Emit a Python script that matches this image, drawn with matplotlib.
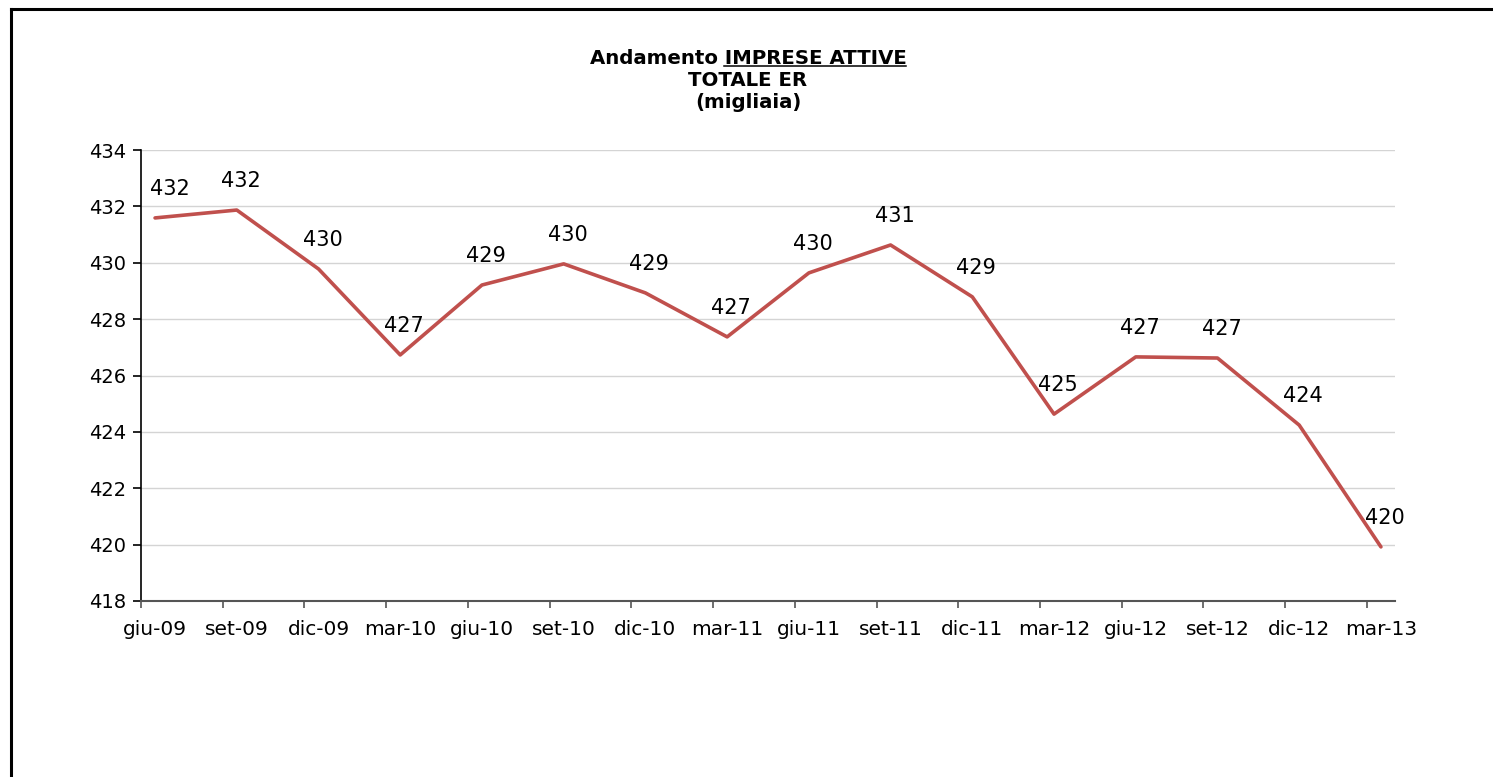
import numpy as np
import matplotlib.pyplot as plt
from matplotlib.lines import Line2D

periods = ["giu-09", "set-09", "dic-09", "mar-10", "giu-10", "set-10", "dic-10", "mar-11",
           "giu-11", "set-11", "dic-11", "mar-12", "giu-12", "set-12", "dic-12", "mar-13"]
imprese = [431.59, 431.87, 429.78, 426.73, 429.21, 429.96, 428.93, 427.37,
           429.64, 430.63, 428.79, 424.63, 426.66, 426.62, 424.24, 419.92]
y_ticks = [418, 420, 422, 424, 426, 428, 430, 432, 434]

LINE_COLOR = "#C0504D"
W, H = 1493, 777

fig = plt.figure(figsize=(W / 100, H / 100), dpi=100)
ax = fig.add_axes([141 / W, 1 - 601 / H, (1395 - 141) / W, (601 - 150) / H])

x = np.arange(len(periods))
ax.plot(x, imprese, color=LINE_COLOR, lw=2.6, solid_capstyle="round", zorder=3)

for xi, v in zip(x, imprese):
    dx = 15 if xi == 0 else 4
    ax.annotate(f"{v:.0f}", (xi, v), xytext=(dx, 29), textcoords="offset pixels",
                ha="center", va="center", fontsize=15, color="black", zorder=4)

off = 0.172
ax.set_xlim(-off, len(periods) - 1 + off)
ax.set_ylim(418, 434)
ax.set_yticks(y_ticks)
ax.set_yticklabels([str(t) for t in y_ticks])
ax.set_xticks(x - off)
ax.set_xticklabels([])
ax.set_xticks(x, minor=True)
ax.set_xticklabels(periods, minor=True)
ax.tick_params(axis="x", which="major", length=5, width=1.2, color="#555555", direction="out")
ax.tick_params(axis="x", which="minor", length=0, pad=14, labelsize=14.5)
ax.tick_params(axis="y", length=6, width=1.2, color="black", direction="out", pad=5, labelsize=14)

ax.grid(axis="y", color="#d4d4d4", lw=1.0)
ax.set_axisbelow(True)
for s in ["top", "right"]:
    ax.spines[s].set_visible(False)
ax.spines["left"].set_color("black")
ax.spines["left"].set_linewidth(1.2)
ax.spines["bottom"].set_color("#555555")
ax.spines["bottom"].set_linewidth(1.5)

# title, three lines, first one partly underlined
xc = 748 / W
tfs = 14.2
t1 = fig.text(xc, 1 - 58 / H, "Andamento IMPRESE ATTIVE", ha="center", va="center",
              fontsize=tfs, fontweight="bold")
fig.text(xc, 1 - 81 / H, "TOTALE ER", ha="center", va="center", fontsize=tfs, fontweight="bold")
fig.text(xc, 1 - 103 / H, "(migliaia)", ha="center", va="center", fontsize=tfs, fontweight="bold")

fig.canvas.draw()
r = fig.canvas.get_renderer()
full = t1.get_window_extent(r)
tmp = fig.text(0, 0, "IMPRESE ATTIVE", fontsize=tfs, fontweight="bold")
w2 = tmp.get_window_extent(r).width
tmp.remove()
uy = (H - 66) / H
fig.add_artist(Line2D([(full.x1 - w2) / W, full.x1 / W], [uy, uy], color="black", lw=1.1))

# outer frame (top and left edges visible)
fy = 1 - 9.3 / H
fx = 10.5 / W
fig.add_artist(Line2D([fx, 1.05], [fy, fy], color="black", lw=2.2, solid_capstyle="projecting"))
fig.add_artist(Line2D([fx, fx], [fy, -0.05], color="black", lw=2.2, solid_capstyle="projecting"))

fig.savefig("out.png", dpi=100)
